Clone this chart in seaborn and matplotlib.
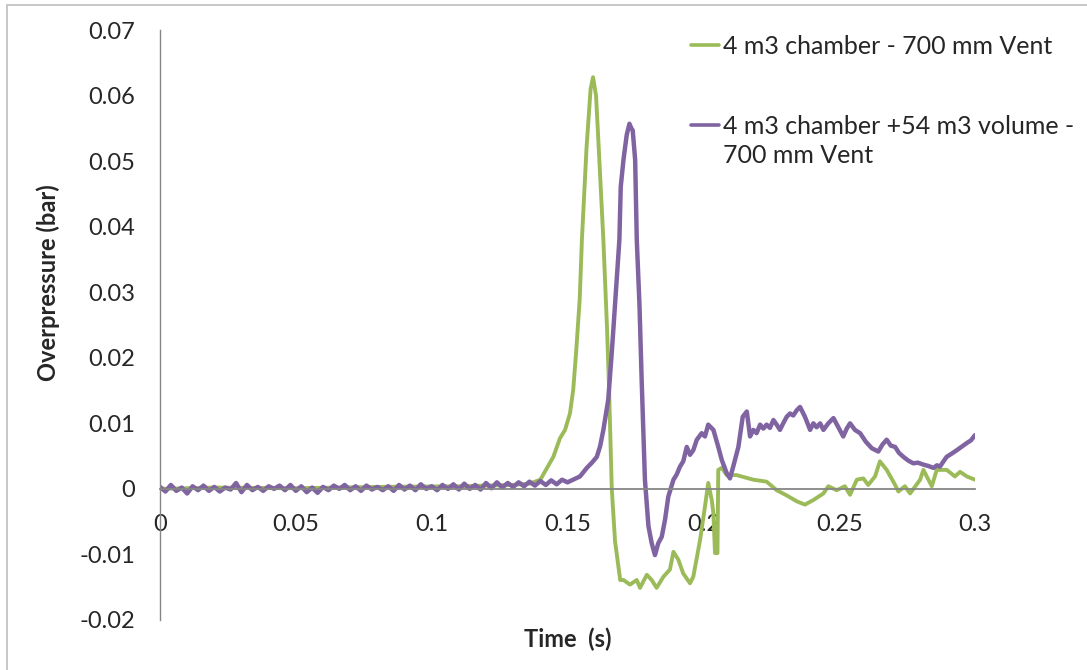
"""
Overpressure traces: 4 m3 chamber with and without the 54 m3 volume.
"""
import matplotlib
matplotlib.use("Agg")
import matplotlib.pyplot as plt
import pandas as pd
import seaborn as sns
from matplotlib.legend_handler import HandlerLine2D
from matplotlib.patches import Rectangle

# ---- data ----
green_t = [
    0.000, 0.020, 0.050, 0.080, 0.110, 0.130, 0.136, 0.1400, 0.1448, 0.1472,
    0.1491, 0.1509, 0.1521, 0.1532, 0.1545, 0.1553, 0.1570, 0.1585, 0.1594, 0.1605,
    0.1615, 0.1632, 0.1645, 0.1652, 0.1663, 0.1675, 0.1694, 0.1706, 0.1730, 0.1755,
    0.1767, 0.1792, 0.1810, 0.1828, 0.1853, 0.1877, 0.1890, 0.1908, 0.1926, 0.1951,
    0.1963, 0.1988, 0.2006, 0.2018, 0.2031, 0.2037, 0.2043, 0.2052, 0.2055, 0.2068,
    0.2086, 0.2123, 0.2184, 0.2233, 0.2270, 0.2307, 0.2344, 0.2374, 0.2405, 0.2442,
    0.2460, 0.2491, 0.2521, 0.2540, 0.2565, 0.2589, 0.2607, 0.2632, 0.2650, 0.2675,
    0.2706, 0.2718, 0.2742, 0.2761, 0.2798, 0.2810, 0.2841, 0.2859, 0.2896, 0.2926,
    0.2945, 0.2970, 0.3000,
]
green_p = [
    0.0000, 0.0002, 0.0001, 0.0003, 0.0004, 0.0006, 0.0008, 0.0014, 0.0049, 0.0077,
    0.0090, 0.0115, 0.0151, 0.0210, 0.0290, 0.0380, 0.0520, 0.0610, 0.0628, 0.0600,
    0.0520, 0.0380, 0.0250, 0.0166, 0.0000, -0.0080, -0.0139, -0.0139, -0.0146, -0.0139,
    -0.0151, -0.0131, -0.0139, -0.0151, -0.0134, -0.0123, -0.0096, -0.0108, -0.0129, -0.0144,
    -0.0134, -0.0078, -0.0027, 0.0009, -0.0017, -0.0037, -0.0098, -0.0098, 0.0029, 0.0032,
    0.0021, 0.0021, 0.0014, 0.0011, -0.0002, -0.0010, -0.0019, -0.0024, -0.0017, -0.0007,
    0.0004, -0.0002, 0.0004, -0.0009, 0.0014, 0.0016, 0.0006, 0.0019, 0.0042, 0.0029,
    0.0006, -0.0004, 0.0004, -0.0007, 0.0014, 0.0029, 0.0004, 0.0029, 0.0029, 0.0019,
    0.0026, 0.0019, 0.0014,
]

purple_t = [
    0.000, 0.002, 0.004, 0.006, 0.008, 0.010, 0.012, 0.014, 0.016, 0.018,
    0.020, 0.022, 0.024, 0.026, 0.028, 0.030, 0.032, 0.034, 0.036, 0.038,
    0.040, 0.042, 0.044, 0.046, 0.048, 0.050, 0.052, 0.054, 0.056, 0.058,
    0.060, 0.062, 0.064, 0.066, 0.068, 0.070, 0.072, 0.074, 0.076, 0.078,
    0.080, 0.082, 0.084, 0.086, 0.088, 0.090, 0.092, 0.094, 0.096, 0.098,
    0.100, 0.102, 0.104, 0.106, 0.108, 0.110, 0.112, 0.114, 0.116, 0.118,
    0.120, 0.122, 0.124, 0.126, 0.128, 0.130, 0.132, 0.134, 0.136, 0.138,
    0.140, 0.142, 0.144, 0.146, 0.148, 0.150, 0.1546, 0.1571, 0.1590, 0.1608,
    0.1620, 0.1632, 0.1650, 0.1665, 0.1678, 0.1691, 0.1696, 0.1706, 0.1718, 0.1728,
    0.1735, 0.1740, 0.1749, 0.1755, 0.1765, 0.1773, 0.1785, 0.1798, 0.1810, 0.1822,
    0.1834, 0.1847, 0.1859, 0.1871, 0.1890, 0.1902, 0.1914, 0.1926, 0.1939, 0.1951,
    0.1963, 0.1976, 0.1994, 0.2006, 0.2018, 0.2037, 0.2055, 0.2068, 0.2086, 0.2098,
    0.2110, 0.2129, 0.2145, 0.2160, 0.2172, 0.2184, 0.2196, 0.2209, 0.2221, 0.2233,
    0.2245, 0.2258, 0.2270, 0.2282, 0.2294, 0.2307, 0.2319, 0.2331, 0.2344, 0.2356,
    0.2374, 0.2393, 0.2405, 0.2417, 0.2430, 0.2442, 0.2460, 0.2479, 0.2497, 0.2515,
    0.2528, 0.2540, 0.2558, 0.2577, 0.2598, 0.2620, 0.2644, 0.2660, 0.2675, 0.2690,
    0.2706, 0.2720, 0.2736, 0.2755, 0.2773, 0.2790, 0.2810, 0.2828, 0.2847, 0.2860,
    0.2871, 0.2884, 0.2896, 0.2915, 0.2933, 0.2950, 0.2970, 0.2985, 0.3000,
]
purple_p = [
    0.0003, -0.0004, 0.0006, -0.0003, 0.0002, -0.0007, 0.0004, -0.0002, 0.0005, -0.0003,
    0.0003, -0.0004, 0.0002, -0.0001, 0.0009, -0.0005, 0.0006, -0.0002, 0.0003, -0.0003,
    0.0004, 0.0000, 0.0005, -0.0002, 0.0006, -0.0003, 0.0004, -0.0005, 0.0002, -0.0006,
    0.0003, -0.0002, 0.0005, 0.0000, 0.0006, -0.0002, 0.0004, -0.0003, 0.0005, -0.0001,
    0.0003, -0.0002, 0.0004, -0.0003, 0.0006, -0.0001, 0.0005, -0.0002, 0.0007, 0.0000,
    0.0004, -0.0002, 0.0006, 0.0000, 0.0007, -0.0001, 0.0008, 0.0000, 0.0006, -0.0001,
    0.0009, 0.0001, 0.0010, 0.0002, 0.0009, 0.0003, 0.0010, 0.0004, 0.0011, 0.0005,
    0.0012, 0.0006, 0.0013, 0.0007, 0.0014, 0.0010, 0.0019, 0.0032, 0.0040, 0.0049,
    0.0065, 0.0090, 0.0136, 0.0220, 0.0300, 0.0380, 0.0461, 0.0502, 0.0540, 0.0557,
    0.0550, 0.0547, 0.0502, 0.0380, 0.0280, 0.0166, 0.0014, -0.0057, -0.0083, -0.0101,
    -0.0083, -0.0073, -0.0047, -0.0012, 0.0014, 0.0022, 0.0034, 0.0042, 0.0064, 0.0052,
    0.0059, 0.0075, 0.0085, 0.0080, 0.0098, 0.0090, 0.0064, 0.0044, 0.0024, 0.0016,
    0.0034, 0.0064, 0.0110, 0.0118, 0.0080, 0.0090, 0.0085, 0.0098, 0.0092, 0.0098,
    0.0093, 0.0105, 0.0098, 0.0090, 0.0100, 0.0110, 0.0115, 0.0112, 0.0120, 0.0125,
    0.0110, 0.0090, 0.0100, 0.0094, 0.0100, 0.0090, 0.0100, 0.0108, 0.0094, 0.0080,
    0.0092, 0.0100, 0.0090, 0.0085, 0.0072, 0.0062, 0.0057, 0.0068, 0.0075, 0.0066,
    0.0064, 0.0055, 0.0049, 0.0043, 0.0039, 0.0040, 0.0037, 0.0035, 0.0032, 0.0036,
    0.0034, 0.0042, 0.0049, 0.0054, 0.0059, 0.0064, 0.0070, 0.0074, 0.0082,
]

series_names = [
    "4 m3 chamber - 700 mm Vent",
    "4 m3 chamber +54 m3 volume -\n700 mm Vent",
]
series_colors = ["#9BBB59", "#8064A2"]
x_ticks = [0, 0.05, 0.1, 0.15, 0.2, 0.25, 0.3]
x_tick_labels = ["0", "0.05", "0.1", "0.15", "0.2", "0.25", "0.3"]
y_ticks = [-0.02, -0.01, 0, 0.01, 0.02, 0.03, 0.04, 0.05, 0.06, 0.07]
y_tick_labels = ["-0.02", "-0.01", "0", "0.01", "0.02", "0.03", "0.04", "0.05", "0.06", "0.07"]


class FirstLineHandler(HandlerLine2D):
    """Put the legend line next to the first line of a two-line label."""

    def __init__(self, shift=0.0, **kw):
        super().__init__(**kw)
        self.shift = shift

    def create_artists(self, legend, orig_handle, xdescent, ydescent, width, height, fontsize, trans):
        return super().create_artists(legend, orig_handle, xdescent, ydescent - 2 * self.shift,
                                      width, height, fontsize, trans)


def main():
    sns.set_theme(style="white")
    plt.rcParams["font.family"] = ["Lato", "DejaVu Sans"]
    plt.rcParams["text.color"] = "#262626"

    df = pd.concat([
        pd.DataFrame({"time": green_t, "p": green_p, "series": series_names[0]}),
        pd.DataFrame({"time": purple_t, "p": purple_p, "series": series_names[1]}),
    ], ignore_index=True)

    fig = plt.figure(figsize=(10.87, 6.70), dpi=100)
    ax = fig.add_axes([160 / 1087, 1 - 620 / 670, 815 / 1087, 590 / 670])

    sns.lineplot(data=df, x="time", y="p", hue="series", palette=series_colors,
                 estimator=None, sort=False, linewidth=2.8, ax=ax)
    ax.get_lines()[1].set_linewidth(3.2)

    ax.set_xlim(0, 0.3)
    ax.set_ylim(-0.02, 0.07)
    ax.set_xticks(x_ticks)
    ax.set_xticklabels(x_tick_labels)
    ax.set_yticks(y_ticks)
    ax.set_yticklabels(y_tick_labels)
    ax.tick_params(length=0, labelsize=17, colors="#262626", pad=18)

    for side in ["top", "right"]:
        ax.spines[side].set_visible(False)
    ax.spines["bottom"].set_position(("data", 0))
    ax.spines["bottom"].set_color("#868686")
    ax.spines["left"].set_color("#868686")
    ax.spines["bottom"].set_linewidth(1.3)
    ax.spines["left"].set_linewidth(1.0)

    ax.set_xlabel("Time  (s)", fontsize=17, fontweight="bold")
    ax.set_ylabel("Overpressure (bar)", fontsize=17, fontweight="bold")
    ax.xaxis.set_label_coords(0.5, -0.013)
    ax.yaxis.set_label_coords(-0.123, 0.572)

    handles, labels = ax.get_legend_handles_labels()
    leg = ax.legend(handles, labels, loc="upper left", bbox_to_anchor=(678 / 1087, 1 - 22 / 670),
                    bbox_transform=fig.transFigure, frameon=False, fontsize=18,
                    handlelength=1.15, handletextpad=0.15, borderpad=0, labelspacing=2.3,
                    handler_map={handles[1]: FirstLineHandler(shift=12)})
    for line in leg.get_lines():
        line.set_linewidth(2.6)
    leg.get_texts()[1].set_linespacing(1.3)

    fig.patches.append(Rectangle((7 / 1087, -0.05), 1.2, 1 - 5 / 670 + 0.05, transform=fig.transFigure,
                                 fill=False, edgecolor="#BFBFBF", linewidth=1.2))

    fig.savefig("out.png", dpi=100)


if __name__ == "__main__":
    main()
